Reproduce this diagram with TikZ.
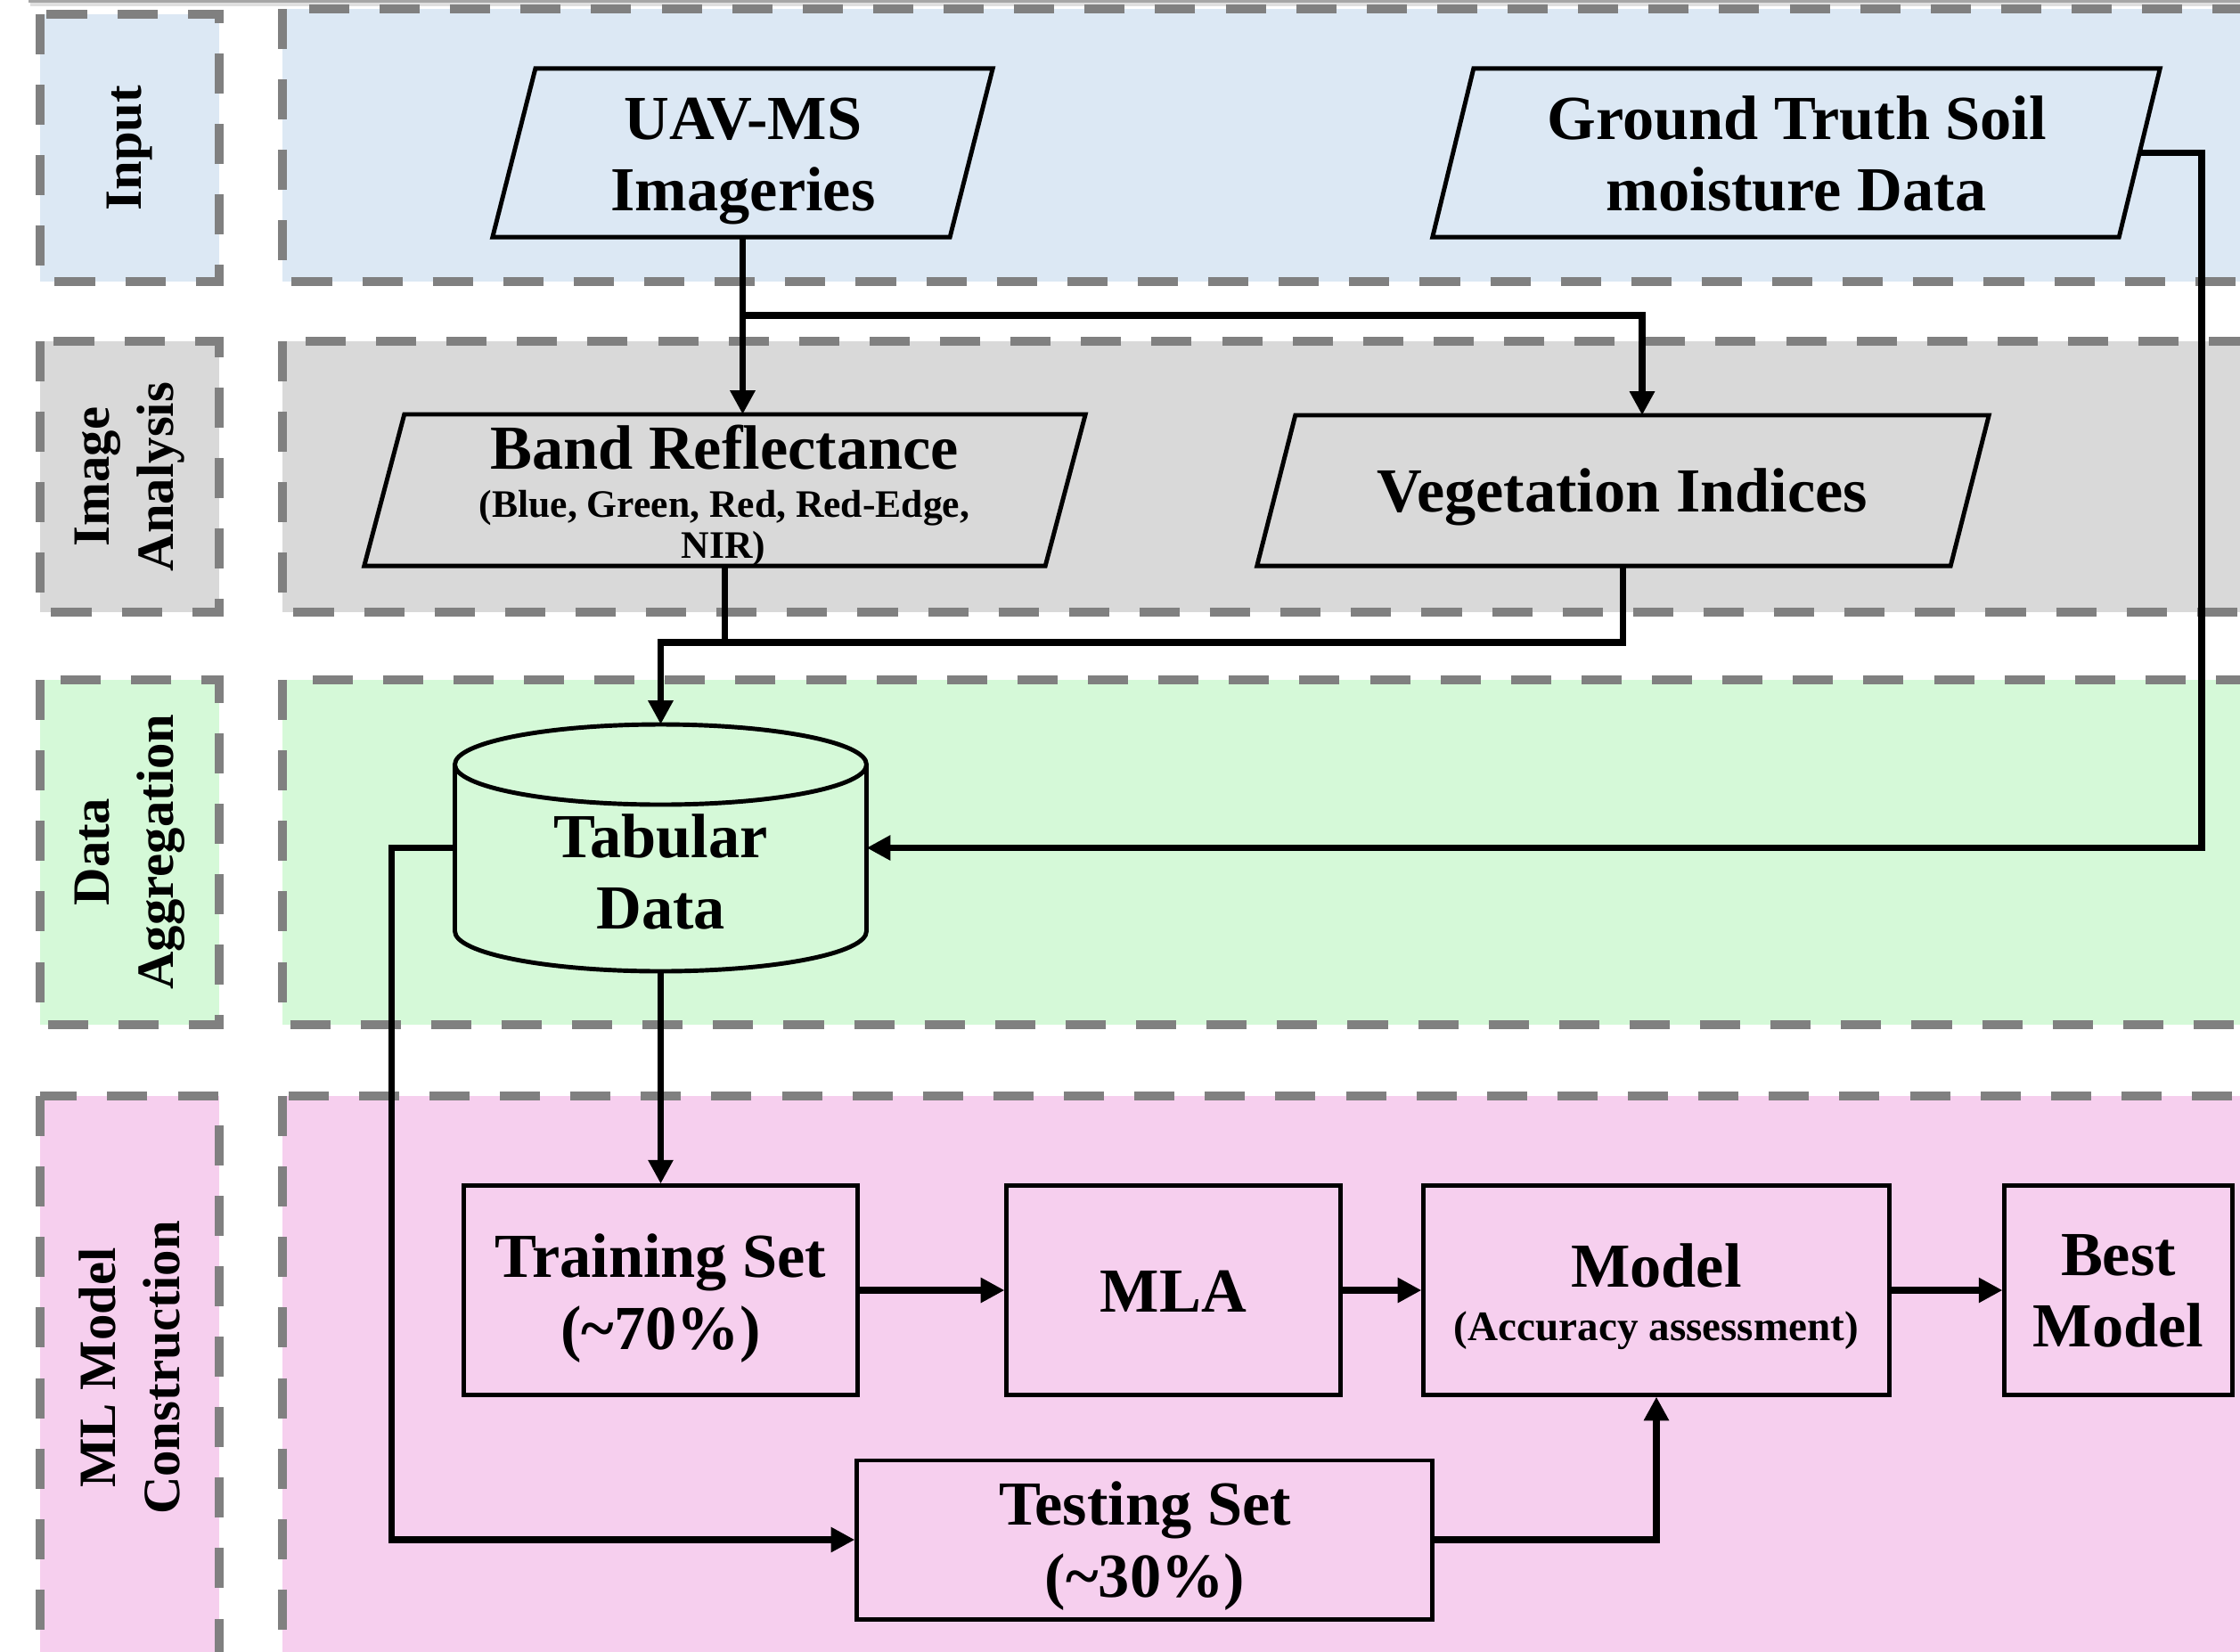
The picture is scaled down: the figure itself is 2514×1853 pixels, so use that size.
\documentclass[tikz,border=0pt]{standalone}
\usepackage{fontspec}
\setmainfont{Liberation Serif}
\usetikzlibrary{arrows.meta}
\definecolor{inbg}{RGB}{220,232,244}
\definecolor{iabg}{RGB}{217,217,217}
\definecolor{dabg}{RGB}{213,249,216}
\definecolor{mlbg}{RGB}{246,207,238}
\definecolor{dashgray}{RGB}{128,128,128}
\begin{document}
\begin{tikzpicture}[x=0.01cm, y=-0.01cm,
  lanebox/.style={draw=dashgray, line width=2.85pt, dash pattern=on 12.8pt off 9.7pt},
  txtbig/.style={font=\fontsize{20}{23}\selectfont\bfseries, anchor=base, inner sep=0pt},
  txtsub/.style={font=\fontsize{12.4}{14}\selectfont\bfseries, anchor=base, inner sep=0pt},
  txtsubm/.style={font=\fontsize{13.4}{15}\selectfont\bfseries, anchor=base, inner sep=0pt},
  txtside/.style={font=\fontsize{16.7}{20.5}\selectfont\bfseries, align=center, rotate=90, inner sep=0pt},
  shapebox/.style={draw=black, line width=1.4pt, inner sep=0pt},
  para/.style={draw=black, line width=1.4pt, line join=miter},
  conn/.style={draw=black, line width=2.2pt, -{Triangle[length=7.6pt,width=7.6pt]}},
  wire/.style={draw=black, line width=2.2pt},
  area/.style={inner sep=0pt, outer sep=0pt},
]
\useasboundingbox (0,0) rectangle (2514,1853);
\clip (0,0) rectangle (2514,1853);
\fill[white] (0,0) rectangle (2514,1853);

% window edge at the top
\draw[gray!25, line width=1.2pt] (34,5) -- (2514,5);
\draw[gray!70, line width=0.9pt] (32,1.5) -- (2514,1.5);

% ---- lanes ----
\fill[inbg] (45,16) rectangle (246,316);
\draw[lanebox] (45,16) rectangle (246,316);
\fill[inbg] (317,10) rectangle (2620,316);
\draw[lanebox] (317,10) rectangle (2620,316);

\fill[iabg] (45,383) rectangle (246,687);
\draw[lanebox] (45,383) rectangle (246,687);
\fill[iabg] (317,383) rectangle (2620,687);
\draw[lanebox] (317,383) rectangle (2620,687);

\fill[dabg] (45,763) rectangle (246,1150);
\draw[lanebox] (45,763) rectangle (246,1150);
\fill[dabg] (317,763) rectangle (2620,1150);
\draw[lanebox] (317,763) rectangle (2620,1150);

\fill[mlbg] (45,1230) rectangle (246,1920);
\draw[lanebox] (45,1230) rectangle (246,1920);
\fill[mlbg] (317,1230) rectangle (2620,1920);
\draw[lanebox] (317,1230) rectangle (2620,1920);

% ---- lane titles ----
\node[txtside] (lin) at (145.5,166) {Input};
\node[txtside] (lia) at (145.5,535) {Image\\Analysis};
\node[txtside] (lda) at (145.5,956) {Data\\Aggregation};
\node[txtside] (lml) at (145.5,1535) {ML Model\\Construction};

% ---- input parallelograms ----
\node[area, minimum width=5.61cm, minimum height=1.89cm] (uav) at (833.5,171.5) {};
\draw[para] ([xshift=0.48cm]uav.north west) -- (uav.north east) -- ([xshift=-0.48cm]uav.south east) -- (uav.south west) -- cycle;
\node[txtbig] (uavt1) at (834,156) {UAV-MS};
\node[txtbig] (uavt2) at (834,236) {Imageries};

\node[area, minimum width=8.16cm, minimum height=1.89cm] (gnd) at (2016,171.5) {};
\draw[para] ([xshift=0.46cm]gnd.north west) -- (gnd.north east) -- ([xshift=-0.46cm]gnd.south east) -- (gnd.south west) -- cycle;
\node[txtbig] (gndt1) at (2017,156) {Ground Truth Soil};
\node[txtbig] (gndt2) at (2016,236) {moisture Data};

% ---- image analysis parallelograms ----
\node[area, minimum width=8.09cm, minimum height=1.70cm] (band) at (813.5,550) {};
\draw[para] ([xshift=0.45cm]band.north west) -- (band.north east) -- ([xshift=-0.45cm]band.south east) -- (band.south west) -- cycle;
\node[txtbig] (bandt1) at (813,526) {Band Reflectance};
\node[txtsub] (bandt2) at (813,580) {(Blue, Green, Red, Red-Edge,};
\node[txtsub] (bandt3) at (812,626) {NIR)};

\node[area, minimum width=8.21cm, minimum height=1.69cm] (veg) at (1821.5,550.5) {};
\draw[para] ([xshift=0.43cm]veg.north west) -- (veg.north east) -- ([xshift=-0.43cm]veg.south east) -- (veg.south west) -- cycle;
\node[txtbig] (vegt) at (1821,574) {Vegetation Indices};

% ---- tabular data cylinder ----
\node[area, minimum width=4.62cm, minimum height=2.77cm] (tab) at (741.5,951.5) {};
\draw[para, fill=dabg] (510.5,858) -- (510.5,1045) arc[start angle=180, end angle=0, x radius=231, y radius=45] -- (972.5,858);
\draw[para, fill=dabg] (741.5,858) ellipse [x radius=231, y radius=45];
\node[txtbig] (tabt1) at (741.5,962) {Tabular};
\node[txtbig] (tabt2) at (741.5,1042) {Data};

% ---- ML boxes ----
\node[shapebox, fill=mlbg, minimum width=4.41cm, minimum height=2.34cm] (train) at (741.5,1448) {};
\node[txtbig] (traint1) at (741.5,1433) {Training Set};
\node[txtbig] (traint2) at (741.5,1514) {(\textasciitilde70\%)};

\node[shapebox, fill=mlbg, minimum width=3.74cm, minimum height=2.34cm] (mla) at (1317,1448) {};
\node[txtbig] (mlat) at (1317,1472) {MLA};

\node[shapebox, fill=mlbg, minimum width=5.22cm, minimum height=2.34cm] (model) at (1859,1448) {};
\node[txtbig] (modelt1) at (1859,1444) {Model};
\node[txtsubm] (modelt2) at (1859,1504) {(Accuracy assessment)};

\node[shapebox, fill=mlbg, minimum width=2.55cm, minimum height=2.34cm] (best) at (2377.5,1448) {};
\node[txtbig] (bestt1) at (2377.5,1431) {Best};
\node[txtbig] (bestt2) at (2377.5,1511) {Model};

\node[shapebox, fill=mlbg, minimum width=6.45cm, minimum height=1.78cm] (test) at (1284.5,1728) {};
\node[txtbig] (testt1) at (1285,1711) {Testing Set};
\node[txtbig] (testt2) at (1285,1792) {(\textasciitilde30\%)};

% ---- connectors ----
\draw[conn] (uav.south) -- (uav.south |- band.north);
\draw[conn] (uav.south) -- ++(0,88) -| ([xshift=0.215cm]veg.north);
\draw[wire] (band.south) -- ++(0,86);
\draw[conn] (veg.south) -- ++(0,86) -| (tab.north);
\draw[conn] ([xshift=-0.23cm]gnd.east) -- ++(70,0) |- (tab.east);
\draw[conn] (tab.south) -- (train.north);
\draw[conn] (tab.west) -- ++(-71,0) |- (test.west);
\draw[conn] (train.east) -- (mla.west);
\draw[conn] (mla.east) -- (model.west);
\draw[conn] (model.east) -- (best.west);
\draw[conn] (test.east) -| (model.south);
\end{tikzpicture}
\end{document}
